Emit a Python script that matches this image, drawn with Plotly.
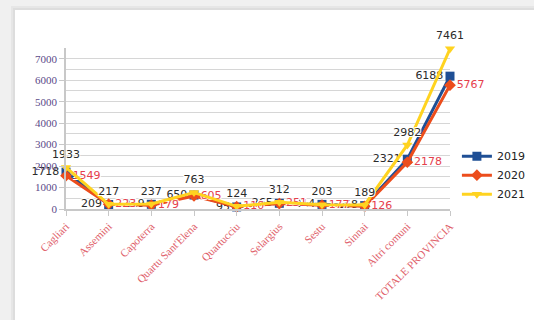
import plotly.graph_objects as go

categories = ["Cagliari", "Assemini", "Capoterra", "Quartu Sant'Elena", "Quartucciu",
              "Selargius", "Sestu", "Sinnai", "Altri comuni", "TOTALE PROVINCIA"]
years = ["2019", "2020", "2021"]
v2019 = [1718, 209, 219, 650, 95, 265, 214, 158, 2321, 6188]
v2020 = [1549, 223, 179, 605, 110, 251, 177, 126, 2178, 5767]
v2021 = [1933, 217, 237, 763, 124, 312, 203, 189, 2982, 7461]
y_ticks = [0, 1000, 2000, 3000, 4000, 5000, 6000, 7000]

W, H = 534, 320
ML, MR, MT, MB = 66, 84, 48, 111
PW, PH = W - ML - MR, H - MT - MB

halo = "1px 1px 0 #fff, -1px -1px 0 #fff, 1px -1px 0 #fff, -1px 1px 0 #fff"
series = [
    (years[0], v2019, "#1f4f95", "square", "middle left", "#2b2b2b"),
    (years[1], v2020, "#ec4d1c", "diamond", "middle right", "#e5404c"),
    (years[2], v2021, "#ffd320", "triangle-down", "top center", "#2b2b2b"),
]

fig = go.Figure()
for name, vals, color, symbol, tpos, tcolor in series:
    fig.add_trace(go.Scatter(
        x=categories, y=vals, name=name, mode="lines+markers+text",
        line=dict(color=color, width=3),
        marker=dict(symbol=symbol, size=9, color=color),
        text=[str(v) for v in vals], textposition=tpos,
        textfont=dict(family="DejaVu Sans", size=11, color=tcolor, shadow=halo),
        cliponaxis=False,
    ))


def px_rect(x0, x1, y0, y1, color):
    """Rectangle given in page pixels, placed in paper coordinates."""
    fig.add_shape(type="rect", xref="paper", yref="paper", layer="below",
                  x0=(x0 - ML) / PW, x1=(x1 - ML) / PW,
                  y0=(H - MB - y1) / PH, y1=(H - MB - y0) / PH,
                  line_width=0, fillcolor=color)


# white card on a light gray page, with a soft edge
px_rect(11, W + 5, 6, H + 5, "#e6e6e6")
px_rect(13, W + 5, 8, H + 5, "#dddddd")
px_rect(15, W + 5, 10, H + 5, "#ffffff")

fig.update_layout(
    width=W, height=H,
    margin=dict(l=ML, r=MR, t=MT, b=MB, autoexpand=False),
    paper_bgcolor="#f0f0f0", plot_bgcolor="rgba(0,0,0,0)",
    showlegend=True,
    legend=dict(x=1.018, y=0.21, xanchor="left", yanchor="middle",
                itemwidth=30, tracegroupgap=0,
                font=dict(family="DejaVu Sans", size=11, color="#222"),
                bgcolor="rgba(0,0,0,0)"),
    xaxis=dict(
        type="category", range=[0, 9], tickangle=-45,
        tickfont=dict(family="Liberation Serif", size=11, color="#e0606a"),
        showgrid=False, showline=True, linecolor="#c8c8c8", linewidth=1.5,
        ticks="outside", ticklen=5, tickcolor="#c8c8c8",
    ),
    yaxis=dict(
        range=[0, 7500], tickvals=y_ticks,
        tickfont=dict(family="Liberation Serif", size=11, color="#5b4a88"),
        showgrid=True, gridcolor="#d6d6d6", gridwidth=1,
        minor=dict(dtick=500, tick0=0, showgrid=True, gridcolor="#d6d6d6"),
        showline=True, linecolor="#c8c8c8", linewidth=1.5,
        ticks="outside", ticklen=5, tickcolor="#c8c8c8", zeroline=False,
    ),
)

page_style = (
    "document.documentElement.style.overflow='hidden';"
    "document.documentElement.style.background='#ffffff';"
    "document.body.style.overflow='hidden';"
    "document.body.style.background='#ffffff';"
    "document.body.style.margin='0';"
)
fig.write_html("out.html", post_script=page_style)
